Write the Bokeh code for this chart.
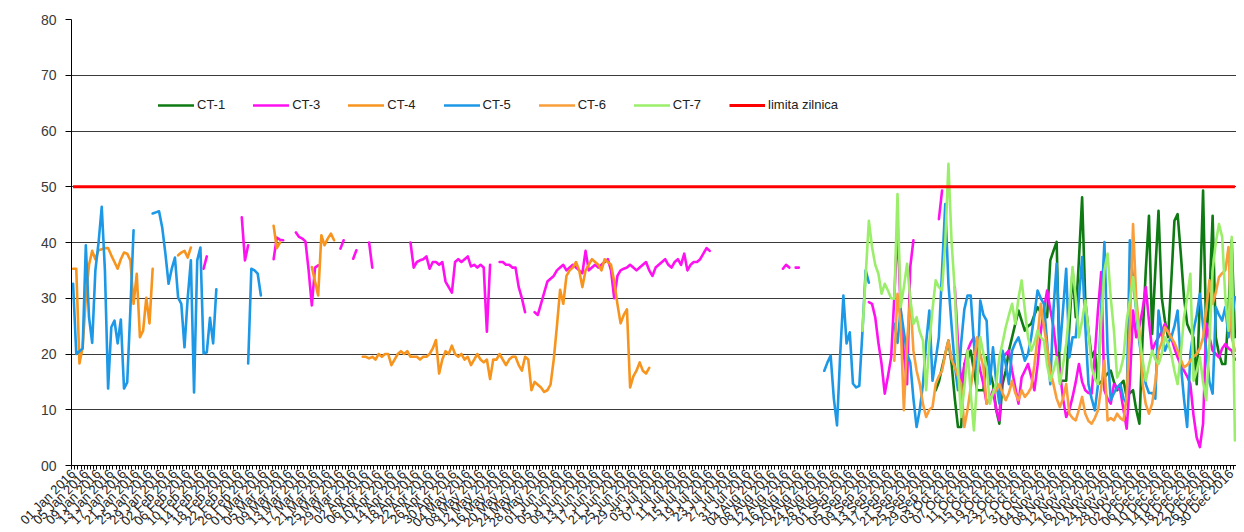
import math
from datetime import date, timedelta

from bokeh.plotting import figure
from bokeh.models import Range1d, FixedTicker, Legend, LegendItem
from bokeh.embed import file_html
from bokeh.resources import INLINE

nan = float("nan")

# ---------------- data ----------------
N_DAYS = 366
day_labels = [(date(2016, 1, 1) + timedelta(days=i)).strftime("%d %b %Y") for i in range(N_DAYS)]
label_days = list(range(0, N_DAYS, 4))
y_ticks = [0, 10, 20, 30, 40, 50, 60, 70, 80]

series_names = ["CT-1", "CT-3", "CT-4", "CT-5", "CT-6", "CT-7", "limita zilnica"]

# each series: segment start days + segment values (gaps between segments)
ct1_starts = [271]
ct1_vals = [[
    13.5, 15, 17.6, 20, 22.4, 18.2, 12, 6.9, 6.9, 18.2,
    19, 20.6, 17, 13.5, 13.5, 13.5, 19.4, 17, 14.6, 10,
    7.5, 14.6, 17, 20.6, 23, 25.4, 27.8, 26, 24.2, 25,
    25.4, 27, 28.4, 27.5, 26.6, 26.6, 36.8, 38.5, 40.1, 15.2,
    15.2, 15.2, 25, 35, 26.6, 37, 48.1, 29.6, 24, 19.4,
    20.6, 14.6, 15, 15.8, 16.5, 17, 15, 13.5, 14.5, 15.2,
    12.3, 13, 13.5, 10, 7.5, 23, 35, 44.8, 23.6, 35,
    45.7, 30.2, 26, 23, 33, 43.9, 45.1, 38, 30.2, 25.4,
    24, 23, 14.6, 30, 49.3, 23, 30, 44.8, 23, 20,
    18.2, 18.2, 28, 40.4, 23]]

ct3_starts = [41, 53, 63, 70, 84, 88, 93, 106, 134, 145, 223, 227, 250, 272, 277]
ct3_vals = [
    [35.3, 37.5],
    [44.5, 36.8, 39.5],
    [37, 40.9, 40.5, 40.4],
    [41.8, 41, 40.7, 40.2, 35, 28.7, 35.5, 35.9],
    [38.9, 40.4],
    [37.1, 38.6],
    [40, 35.5],
    [40, 35.5, 36.5, 36.8, 37, 37.5, 35.3, 36.5, 36.5, 36, 36.5, 33, 32, 31, 36.5, 37,
     36.5, 37, 37.5, 35.7, 36, 35.5, 36, 35.5, 24, 36],
    [36.5, 36.5, 36, 36, 35.5, 35.5, 32, 30, 27.5],
    [27.5, 27, 29, 31, 33, 33.5, 34, 35, 35.5, 36, 35, 35.5, 36, 35.5, 35, 34.5, 38.5, 35,
     35.5, 36, 35.5, 36, 36.5, 37, 35, 30, 34, 35, 35.3, 35.5, 36, 35.5, 35, 35.5, 36, 36.5,
     35, 34, 35.5, 36, 36.5, 37, 36, 35.5, 36.5, 37, 36, 38, 35, 36, 36.5, 36.5, 37, 38, 39, 38.5],
    [35.3, 36, 35.5],
    [35.5, 35.5],
    [29.3, 29, 26.6, 22, 18.2, 12.9, 16, 19.4, 30.2, 42.8, 27.8, 20, 14.6, 35.6, 40.4],
    [44.2, 49.3],
    [32, 22, 14.6, 18, 20.6, 22, 23, 20, 17, 14.6,
     11.1, 12, 13.5, 10, 8.1, 19.4, 20, 20.6, 17, 14,
     11.1, 15.8, 17, 18.2, 16, 13.5, 18, 24, 28, 31.4,
     28, 24.8, 20, 17, 12, 8.7, 10, 12.3, 15, 18.2,
     15, 13.5, 13, 12.9, 20, 28, 34.7, 13.5, 12, 11.1,
     14.6, 14, 13.5, 10, 6.6, 15, 27.8, 23, 25, 28,
     32, 26, 20.6, 22, 23, 24, 25.4, 24, 23, 21,
     19.4, 18, 17, 16, 14.6, 9, 5, 3.3, 7.5, 25.4,
     23, 20.6, 20, 19.4, 21, 21.8, 21, 20.6, 19],
]

ct4_starts = [0, 33, 63, 75, 91]
ct4_vals = [
    [35.3, 35.3, 18.3, 21.2, 30, 36, 38.5, 37, 38.6, 38.8, 39, 39, 37.7, 36.5, 35.3, 37,
     38.2, 38, 36.8, 29, 34.4, 23, 24.2, 30.1, 25.5, 35.3],
    [37.7, 38.2, 38.5, 37.3, 39.1],
    [43, 39, 40],
    [35.6, 33, 30.5, 41.3, 39.5, 40.7, 41.6, 40.4],
    [19.5, 19.5, 19.2, 19.5, 19, 20, 19.5, 20, 20, 18,
     19, 20, 20.5, 20, 20.5, 19.5, 19.5, 19.5, 19, 19.5,
     19.5, 20, 21, 22.5, 16.5, 19, 20.5, 20, 21.5, 20,
     19.5, 20, 19, 19.5, 18, 19, 20, 19, 18.5, 19,
     15.5, 19, 19, 20, 19, 18, 19, 19.5, 19.5, 18,
     17, 19.5, 19, 13.5, 15, 14.5, 14, 13.2, 13.5, 14.5,
     19, 25, 31.5, 29, 34, 35, 35.5, 36.5, 35, 32,
     35, 36, 37, 36.5, 36, 35, 37, 36.5, 36, 33,
     29, 25.5, 27, 28, 14, 16, 17, 18.5, 17, 16.5,
     17.5],
]

ct5_starts = [0, 25, 55, 236, 258]
ct5_vals = [
    [32.6, 20, 20.5, 21, 39.5, 26.6, 22, 35, 40, 46.4, 35, 13.8, 24.8, 26, 21.9, 26.2,
     13.8, 14.9, 28, 42.2],
    [45.2, 45.4, 45.6, 42.7, 38, 32.6, 35.3, 37.3, 30.1, 29, 21.2, 30, 36.8, 13.1, 36.8,
     39.1, 20.1, 20.3, 26.5, 21.9, 31.6],
    [18.3, 35.3, 35, 34.4, 30.5],
    [17, 18.5, 19.7, 12, 7.2, 20, 30.5, 21.9, 23.9, 14.7, 14, 14.3, 24.2, 35, 32.8],
    [25.4, 22, 28, 24, 20, 18.5, 12, 6.9, 10, 14.6,
     22, 27.8, 15.2, 19, 23, 35, 46.9, 32.6, 25, 18,
     13.5, 22, 28, 30.5, 30.5, 22, 14.6, 29.6, 27, 26,
     14.6, 21.2, 15, 11.1, 20.6, 18.2, 14.6, 20.6, 22, 23,
     21, 18.8, 20, 23, 27, 31.4, 30, 29, 22, 14.6,
     28, 36.2, 20.6, 28, 35.3, 19.4, 23, 23, 30, 37.4,
     25, 14.6, 12, 9.9, 14.6, 28, 40.1, 20.6, 11.7, 13,
     14, 14.6, 12, 11.1, 40.4, 33, 27.8, 22, 18.2, 14.6,
     13, 13, 12, 27.8, 24, 20.6, 22, 23, 25, 27.8,
     18.2, 12, 6.9, 20, 24.2, 27, 30.8, 25, 20.6, 15,
     12.9, 28.4, 27, 26, 28.4, 23, 26, 30.2],
]

ct6_starts = [258]
ct6_vals = [[
    18.8, 30.8, 25.4, 9.9, 22, 30.2, 20.6, 17, 14.6, 11,
    8.7, 10, 10.5, 14.6, 16, 17, 20, 22.4, 19, 17.6,
    16, 14.6, 6.9, 10, 14, 18, 23, 20, 17.6, 11.1,
    12, 12.9, 13.5, 14.6, 13, 11.7, 13, 15.2, 13, 11.7,
    13.5, 12.3, 13, 14, 18, 23, 29, 25, 21.2, 17,
    14.6, 12, 10.5, 12, 14.6, 9.3, 8.5, 8.1, 10, 12.3,
    9.3, 8, 7.5, 8.5, 9.9, 14, 18.8, 8.1, 8.5, 8.1,
    9.3, 8.5, 8.1, 12.3, 25, 43.3, 30, 24.2, 14.6, 11,
    9.3, 11.1, 15, 20.6, 22, 24.8, 24, 23, 22, 20.6,
    19, 17.6, 18, 18.8, 19.5, 20, 21, 23, 28, 33.2,
    29, 31, 33.8, 34.5, 35, 39.2, 23, 20.6]]

ct7_starts = [248]
ct7_vals = [[
    24.2, 34, 43.9, 39.2, 36, 34.4, 30.8, 32.6, 31.4, 30,
    29.9, 48.7, 28.4, 32, 36.2, 30, 25.4, 26.6, 24, 22.4,
    13.5, 22, 28, 33.2, 32, 31.4, 40, 54.1, 40, 31.4,
    17.6, 8.7, 14, 20.6, 13, 6.3, 15, 23, 20, 17.6,
    11.1, 13, 14.6, 19.4, 22, 24.8, 27, 29, 25.4, 30,
    33.2, 28, 23, 20.6, 22, 24.2, 23, 22.4, 18, 15.2,
    17, 19.4, 14.6, 18, 21.8, 28, 35.6, 30, 23, 26,
    29.6, 24, 17.6, 15.5, 14.6, 26, 35, 38, 30, 24.2,
    15.8, 17, 19.4, 26, 29.6, 33.8, 28, 23, 19, 15.2,
    18, 20.6, 19, 18.2, 20, 23, 22, 20, 17, 14.6,
    20, 26.6, 30, 34.4, 15.2, 17, 19.4, 15, 11.7, 22,
    35, 40, 43.3, 41, 30, 24.2, 41, 4.5]]

limit_value = 50

colors = {
    "CT-1": "#0E7A12",
    "CT-3": "#FF10F0",
    "CT-4": "#F7941D",
    "CT-5": "#1C98E6",
    "CT-6": "#F99E3A",
    "CT-7": "#9BEE6A",
    "limita zilnica": "#FF0000",
}


def build(starts, vals):
    xs, ys = [], []
    for s, seg in zip(starts, vals):
        for k, v in enumerate(seg):
            xs.append(s + k)
            ys.append(v)
        xs.append(nan)
        ys.append(nan)
    return xs, ys


# ---------------- figure ----------------
p = figure(
    frame_width=1165, frame_height=446,
    x_range=Range1d(-0.5, 365.5), y_range=Range1d(0, 80),
    output_backend="svg", toolbar_location=None,
    min_border_left=71, min_border_top=19, min_border_right=0, min_border_bottom=0,
)
p.outline_line_color = None
p.background_fill_color = "white"
p.border_fill_color = "white"

# grid
p.xgrid.visible = False
p.ygrid.ticker = FixedTicker(ticks=y_ticks)
p.ygrid.grid_line_color = "#3a3a3a"
p.ygrid.grid_line_width = 1

renderers = {}
for name, starts, vals in [
    ("CT-1", ct1_starts, ct1_vals),
    ("CT-3", ct3_starts, ct3_vals),
    ("CT-4", ct4_starts, ct4_vals),
    ("CT-5", ct5_starts, ct5_vals),
    ("CT-6", ct6_starts, ct6_vals),
    ("CT-7", ct7_starts, ct7_vals),
]:
    xs, ys = build(starts, vals)
    renderers[name] = p.line(xs, ys, line_color=colors[name], line_width=2.6,
                             line_join="round", line_cap="round")

lim_x = list(range(N_DAYS))
lim_y = [limit_value for _ in lim_x]
renderers["limita zilnica"] = p.line(lim_x, lim_y, line_color=colors["limita zilnica"], line_width=3)

# axes
xa = p.xaxis[0]
xa.ticker = FixedTicker(ticks=label_days, minor_ticks=[i - 0.5 for i in range(N_DAYS + 1)])
xa.major_label_overrides = {d: day_labels[d] for d in label_days}
xa.major_label_orientation = math.pi / 4
xa.major_tick_line_color = None
xa.major_tick_out = 4
xa.major_tick_in = 0
xa.minor_tick_out = 4
xa.minor_tick_in = 0
xa.minor_tick_line_color = "black"
xa.axis_line_color = "black"
xa.major_label_text_font = "Liberation Sans"
xa.major_label_text_font_size = "13px"
xa.major_label_text_color = "#222222"
xa.major_label_standoff = 2

ya = p.yaxis[0]
ya.ticker = FixedTicker(ticks=y_ticks)
ya.major_label_overrides = {0: "00"}
ya.minor_tick_line_color = None
ya.major_tick_out = 6
ya.major_tick_in = 0
ya.major_tick_line_color = "black"
ya.axis_line_color = "black"
ya.major_label_text_font = "Liberation Sans"
ya.major_label_text_font_size = "14px"
ya.major_label_text_color = "#3a3a3a"
ya.major_label_standoff = 9

# legend
items = [LegendItem(label=n, renderers=[renderers[n]]) for n in series_names]
legend = Legend(
    items=items, orientation="horizontal", location=(87, 353),
    glyph_width=36, glyph_height=14, label_height=14, label_standoff=3,
    spacing=28, padding=0, margin=0,
    label_text_font="Liberation Sans", label_text_font_size="13px",
    label_text_color="#222222",
    border_line_color=None, background_fill_alpha=0,
)
p.add_layout(legend)

open("out.html", "w").write(file_html(p, INLINE))
